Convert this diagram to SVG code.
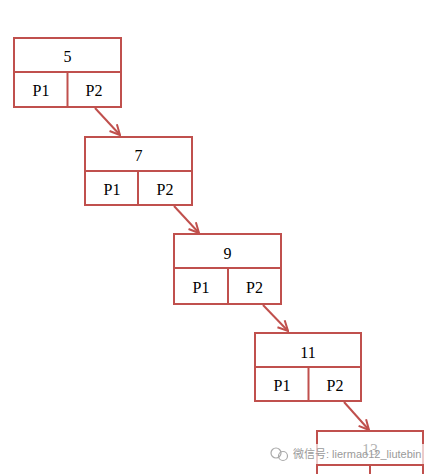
<svg xmlns="http://www.w3.org/2000/svg" width="441" height="474" viewBox="0 0 441 474">
<style>
.box{fill:#fff;stroke:#c0504d;stroke-width:2}
.ln{stroke:#c0504d;stroke-width:2;fill:none}
.t{font-family:"Liberation Serif",serif;font-size:16px;fill:#000;text-anchor:middle}
.wm{font-family:"Liberation Sans","Noto Sans CJK SC",sans-serif;font-size:11px;fill:#9a9a9a}
</style>
<defs>
<marker id="ah" viewBox="0 0 12 12" refX="11" refY="6" markerWidth="12" markerHeight="12" markerUnits="userSpaceOnUse" orient="auto">
<path d="M1,1 L11,6 L1,11" fill="none" stroke="#c0504d" stroke-width="2"/>
</marker>
</defs>
<rect width="441" height="474" fill="#fff"/>
<g id="connectors">
<line class="ln" x1="95" y1="108" x2="120" y2="135" marker-end="url(#ah)"/>
<line class="ln" x1="174" y1="206" x2="199" y2="233" marker-end="url(#ah)"/>
<line class="ln" x1="263" y1="305" x2="288" y2="331" marker-end="url(#ah)"/>
<line class="ln" x1="344" y1="402" x2="369" y2="430" marker-end="url(#ah)"/>
</g>
<g id="node5">
<rect class="box" x="14" y="38" width="107" height="69"/>
<line class="ln" x1="14" y1="72" x2="121" y2="72"/>
<line class="ln" x1="67.5" y1="72" x2="67.5" y2="107"/>
<text class="t" x="67.5" y="62">5</text>
<text class="t" x="41" y="96">P1</text>
<text class="t" x="94" y="96">P2</text>
</g>
<g id="node7">
<rect class="box" x="85" y="137" width="107" height="68"/>
<line class="ln" x1="85" y1="171" x2="192" y2="171"/>
<line class="ln" x1="138" y1="171" x2="138" y2="205"/>
<text class="t" x="138.5" y="161">7</text>
<text class="t" x="112" y="195">P1</text>
<text class="t" x="165" y="195">P2</text>
</g>
<g id="node9">
<rect class="box" x="174" y="234" width="107" height="70"/>
<line class="ln" x1="174" y1="268" x2="281" y2="268"/>
<line class="ln" x1="228" y1="268" x2="228" y2="304"/>
<text class="t" x="227.5" y="259">9</text>
<text class="t" x="201" y="293">P1</text>
<text class="t" x="254.5" y="293">P2</text>
</g>
<g id="node11">
<rect class="box" x="255" y="333" width="106" height="68"/>
<line class="ln" x1="255" y1="367" x2="361" y2="367"/>
<line class="ln" x1="308.5" y1="367" x2="308.5" y2="401"/>
<text class="t" x="308" y="358">11</text>
<text class="t" x="282" y="391">P1</text>
<text class="t" x="335" y="391">P2</text>
</g>
<g id="node13">
<rect class="box" x="317" y="431" width="106" height="68"/>
<line class="ln" x1="317" y1="465" x2="423" y2="465"/>
<line class="ln" x1="370" y1="465" x2="370" y2="499"/>
<text class="t" x="370" y="455">13</text>
</g>
<g id="watermark">
<rect x="268" y="444" width="162" height="20" fill="#fff" opacity="0.7"/>
<circle cx="276" cy="453" r="5" fill="none" stroke="#aaa" stroke-width="1.2"/>
<circle cx="283" cy="456" r="4.5" fill="none" stroke="#aaa" stroke-width="1.2"/>
<text class="wm" x="293" y="458">微信号: liermao12_liutebin</text>
</g>
</svg>
